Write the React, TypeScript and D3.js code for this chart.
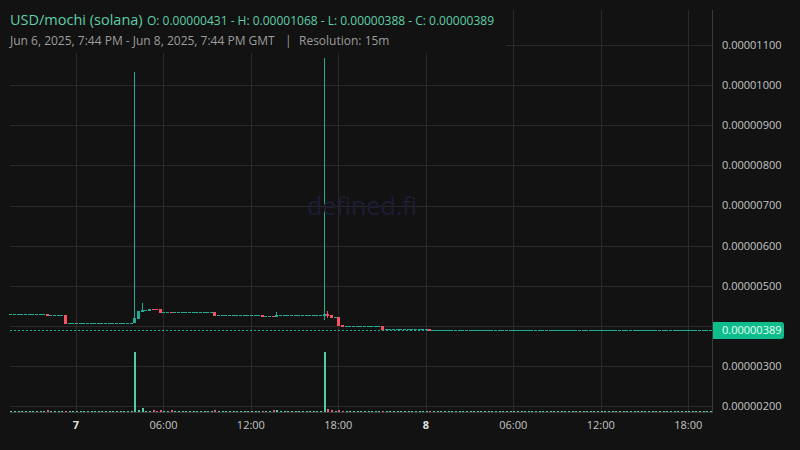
import { useEffect, useRef } from 'react';
import * as d3 from 'd3';

// prices are in USD per token, times in GMT (15m candles)
// [time, open, high, low, close, volume]
const candles: [string, number, number, number, number, number][] = [
  ['2025-06-06T22:00Z', 4.31e-6, 4.31e-6, 4.25e-6, 4.25e-6, 3],
  ['2025-06-06T23:15Z', 4.28e-6, 4.28e-6, 4.05e-6, 4.05e-6, 2],
  ['2025-06-07T04:00Z', 4.07e-6, 10.33e-6, 4.07e-6, 4.2e-6, 100],
  ['2025-06-07T04:15Z', 4.18e-6, 4.37e-6, 4.18e-6, 4.37e-6, 4],
  ['2025-06-07T04:30Z', 4.35e-6, 4.57e-6, 4.35e-6, 4.4e-6, 6],
  ['2025-06-07T04:45Z', 4.39e-6, 4.39e-6, 4.39e-6, 4.39e-6, 2],
  ['2025-06-07T05:00Z', 4.37e-6, 4.42e-6, 4.37e-6, 4.42e-6, 2],
  ['2025-06-07T05:15Z', 4.42e-6, 4.42e-6, 4.415e-6, 4.415e-6, 4],
  ['2025-06-07T05:30Z', 4.42e-6, 4.42e-6, 4.415e-6, 4.415e-6, 2],
  ['2025-06-07T05:45Z', 4.42e-6, 4.42e-6, 4.32e-6, 4.32e-6, 3],
  ['2025-06-07T06:30Z', 4.34e-6, 4.34e-6, 4.335e-6, 4.335e-6, 3],
  ['2025-06-07T09:30Z', 4.35e-6, 4.35e-6, 4.25e-6, 4.25e-6, 3],
  ['2025-06-07T12:45Z', 4.27e-6, 4.27e-6, 4.22e-6, 4.22e-6, 2],
  ['2025-06-07T13:30Z', 4.25e-6, 4.25e-6, 4.22e-6, 4.22e-6, 3],
  ['2025-06-07T13:45Z', 4.22e-6, 4.35e-6, 4.22e-6, 4.27e-6, 3],
  ['2025-06-07T17:00Z', 4.25e-6, 10.68e-6, 4.15e-6, 4.3e-6, 100],
  ['2025-06-07T17:15Z', 4.3e-6, 4.37e-6, 4.2e-6, 4.25e-6, 5],
  ['2025-06-07T17:30Z', 4.27e-6, 4.27e-6, 4.2e-6, 4.2e-6, 3],
  ['2025-06-07T17:45Z', 4.22e-6, 4.22e-6, 4.22e-6, 4.22e-6, 2],
  ['2025-06-07T18:00Z', 4.22e-6, 4.22e-6, 4.0e-6, 4.0e-6, 3],
  ['2025-06-07T18:15Z', 4.02e-6, 4.02e-6, 3.97e-6, 3.97e-6, 2],
  ['2025-06-07T21:00Z', 4.0e-6, 4.0e-6, 3.9e-6, 3.9e-6, 2],
  ['2025-06-08T00:15Z', 3.92e-6, 3.92e-6, 3.88e-6, 3.88e-6, 2],
];

// stretches where every 15m candle traded flat at one price: [from, to, price]
const flatRuns: [string, string, number][] = [
  ['2025-06-06T19:30Z', '2025-06-06T21:45Z', 4.31e-6],
  ['2025-06-06T22:15Z', '2025-06-06T23:00Z', 4.27e-6],
  ['2025-06-06T23:30Z', '2025-06-07T03:45Z', 4.07e-6],
  ['2025-06-07T06:00Z', '2025-06-07T06:15Z', 4.34e-6],
  ['2025-06-07T06:45Z', '2025-06-07T09:15Z', 4.34e-6],
  ['2025-06-07T09:45Z', '2025-06-07T12:30Z', 4.27e-6],
  ['2025-06-07T13:00Z', '2025-06-07T13:15Z', 4.25e-6],
  ['2025-06-07T14:00Z', '2025-06-07T16:45Z', 4.27e-6],
  ['2025-06-07T18:30Z', '2025-06-07T20:45Z', 3.99e-6],
  ['2025-06-07T21:15Z', '2025-06-08T00:00Z', 3.92e-6],
  ['2025-06-08T00:30Z', '2025-06-08T19:30Z', 3.89e-6],
];
const flatVolume = 2.5;

const lastPrice = 3.89e-6;
const yTicks = [2e-6, 3e-6, 4e-6, 5e-6, 6e-6, 7e-6, 8e-6, 9e-6, 10e-6, 11e-6];
const xTicks: [string, string, boolean][] = [
  ['2025-06-07T00:00Z', '7', true],
  ['2025-06-07T06:00Z', '06:00', false],
  ['2025-06-07T12:00Z', '12:00', false],
  ['2025-06-07T18:00Z', '18:00', false],
  ['2025-06-08T00:00Z', '8', true],
  ['2025-06-08T06:00Z', '06:00', false],
  ['2025-06-08T12:00Z', '12:00', false],
  ['2025-06-08T18:00Z', '18:00', false],
];

const title = 'USD/mochi (solana)';
const ohlcText = 'O: 0.00000431 - H: 0.00001068 - L: 0.00000388 - C: 0.00000389';
const rangeText = 'Jun 6, 2025, 7:44 PM - Jun 8, 2025, 7:44 PM GMT';
const resolutionText = 'Resolution: 15m';

const BG = '#121212';
const GRID = '#2a2a2a';
const UP = '#22ab94';
const DOWN = '#f7525f';
const VOL_UP = '#55cba2';
const VOL_DOWN = '#d8667d';

export default function App() {
  const svgRef = useRef<SVGSVGElement>(null);

  useEffect(() => {
    document.body.style.margin = '0';
    document.body.style.background = BG;
  }, []);

  useEffect(() => {
    if (!svgRef.current) return;
    const width = 800;
    const height = 450;
    const plot = { left: 10, right: 712, top: 10, bottom: 412 };

    const svg = d3.select(svgRef.current);
    svg.selectAll('*').remove();
    svg.attr('width', width).attr('height', height);

    svg.append('rect').attr('width', width).attr('height', height).attr('fill', BG);

    // build the candle list (flat stretches expanded into 15m dojis)
    const data: { t: Date; o: number; h: number; l: number; c: number; v: number }[] = [];
    flatRuns.forEach(([from, to, p]) => {
      d3.utcMinute.every(15)!.range(new Date(from), d3.utcMinute.offset(new Date(to), 1)).forEach(t => {
        data.push({ t, o: p, h: p, l: p, c: p, v: flatVolume });
      });
    });
    candles.forEach(([t, o, h, l, c, v]) => data.push({ t: new Date(t), o, h, l, c, v }));
    data.sort((a, b) => a.t.getTime() - b.t.getTime());

    const x = d3.scaleUtc()
      .domain([new Date('2025-06-06T19:28:24Z'), new Date('2025-06-08T19:38Z')])
      .range([plot.left, plot.right]);
    const y = d3.scaleLinear().domain([1.858e-6, 11.873e-6]).range([plot.bottom, plot.top]);
    const vol = d3.scaleLinear().domain([0, 100]).range([plot.bottom, plot.bottom - 60]);
    const wickX = (t: Date) => Math.round(x(t));

    const g = svg.append('g').attr('shape-rendering', 'crispEdges');

    // grid
    g.selectAll('.hgrid').data(yTicks).enter().append('line')
      .attr('x1', plot.left).attr('x2', plot.right)
      .attr('y1', d => Math.round(y(d)) + 0.5).attr('y2', d => Math.round(y(d)) + 0.5)
      .attr('stroke', GRID);
    g.selectAll('.vgrid').data(xTicks).enter().append('line')
      .attr('x1', d => Math.round(x(new Date(d[0]))) + 0.5).attr('x2', d => Math.round(x(new Date(d[0]))) + 0.5)
      .attr('y1', plot.top).attr('y2', plot.bottom)
      .attr('stroke', GRID);

    // watermark
    svg.append('text')
      .attr('x', 362).attr('y', 215)
      .attr('text-anchor', 'middle')
      .attr('font-family', 'Open Sans, sans-serif')
      .attr('font-size', 25)
      .attr('fill', '#1d1d34')
      .text('defined.fi');

    // volume
    g.selectAll('.vol').data(data).enter().append('rect')
      .attr('x', d => wickX(d.t))
      .attr('width', 2)
      .attr('y', d => vol(d.v))
      .attr('height', d => plot.bottom - vol(d.v))
      .attr('fill', d => (d.c < d.o ? VOL_DOWN : VOL_UP));

    // last price line
    g.append('line')
      .attr('x1', plot.left).attr('x2', plot.right)
      .attr('y1', Math.round(y(lastPrice)) + 0.5).attr('y2', Math.round(y(lastPrice)) + 0.5)
      .attr('stroke', UP).attr('stroke-dasharray', '2 2');

    // candles: wick and body as rects
    const color = (d: { o: number; c: number }) => (d.c < d.o ? DOWN : UP);
    const cg = g.selectAll('.candle').data(data).enter().append('g');
    cg.append('rect')
      .attr('x', d => wickX(d.t))
      .attr('width', 1)
      .attr('y', d => Math.round(y(d.h)))
      .attr('height', d => Math.max(1, Math.round(y(d.l)) - Math.round(y(d.h))))
      .attr('fill', color);
    cg.append('rect')
      .attr('x', d => wickX(d.t) - 1)
      .attr('width', 3)
      .attr('y', d => Math.round(y(Math.max(d.o, d.c))))
      .attr('height', d => Math.max(1, Math.round(Math.abs(y(d.o) - y(d.c)))))
      .attr('fill', color);

    // frame
    g.append('line').attr('x1', plot.right + 0.5).attr('x2', plot.right + 0.5)
      .attr('y1', plot.top).attr('y2', plot.bottom + 1).attr('stroke', '#3a3a3a');
    g.append('line').attr('x1', plot.left).attr('x2', plot.right)
      .attr('y1', plot.bottom + 0.5).attr('y2', plot.bottom + 0.5).attr('stroke', '#3a3a3a');

    // legend backdrop hides the grid behind the header
    svg.append('rect').attr('x', 0).attr('y', 0).attr('width', 506).attr('height', 53).attr('fill', BG);

    // y axis labels
    svg.append('g').selectAll('text').data(yTicks).enter().append('text')
      .attr('x', 722).attr('y', d => y(d))
      .attr('dy', '0.35em')
      .attr('font-family', 'Open Sans, sans-serif')
      .attr('font-size', 11)
      .attr('fill', '#c4c4c4')
      .text(d => d.toFixed(8));

    // last price tag (covers the 0.00000400 label, as on the original)
    const py = y(lastPrice);
    svg.append('path')
      .attr('d', `M${plot.right + 1},${py - 8.5}h68a3,3 0 0 1 3,3v11a3,3 0 0 1 -3,3h-68z`)
      .attr('fill', '#0dbd8b');
    svg.append('text')
      .attr('x', 722).attr('y', py)
      .attr('dy', '0.35em')
      .attr('font-family', 'Open Sans, sans-serif')
      .attr('font-size', 11)
      .attr('fill', '#eafff7')
      .text(lastPrice.toFixed(8));

    // x axis labels
    svg.append('g').selectAll('text').data(xTicks).enter().append('text')
      .attr('x', d => x(new Date(d[0])))
      .attr('y', 429)
      .attr('text-anchor', 'middle')
      .attr('font-family', 'Open Sans, sans-serif')
      .attr('font-size', 11)
      .attr('font-weight', d => (d[2] ? 700 : 400))
      .attr('fill', d => (d[2] ? '#e0e0e0' : '#c4c4c4'))
      .text(d => d[1]);

    // header
    svg.append('text').attr('x', 10).attr('y', 25)
      .attr('font-family', 'Open Sans, sans-serif').attr('font-size', 14.5)
      .attr('fill', '#5ecfa9').text(title);
    svg.append('text').attr('x', 147).attr('y', 25)
      .attr('font-family', 'Open Sans, sans-serif').attr('font-size', 12)
      .attr('fill', '#5ecfa9').text(ohlcText);
    const sub = svg.append('text').attr('y', 45)
      .attr('font-family', 'Open Sans, sans-serif').attr('font-size', 12).attr('fill', '#9c9c9c');
    sub.append('tspan').attr('x', 10).text(rangeText);
    sub.append('tspan').attr('x', 285).text('|');
    sub.append('tspan').attr('x', 299).text(resolutionText);
  }, []);

  return (
    <div style={{ width: 800, height: 450, overflow: 'hidden' }}>
      <svg ref={svgRef} style={{ display: 'block' }} />
    </div>
  );
}
